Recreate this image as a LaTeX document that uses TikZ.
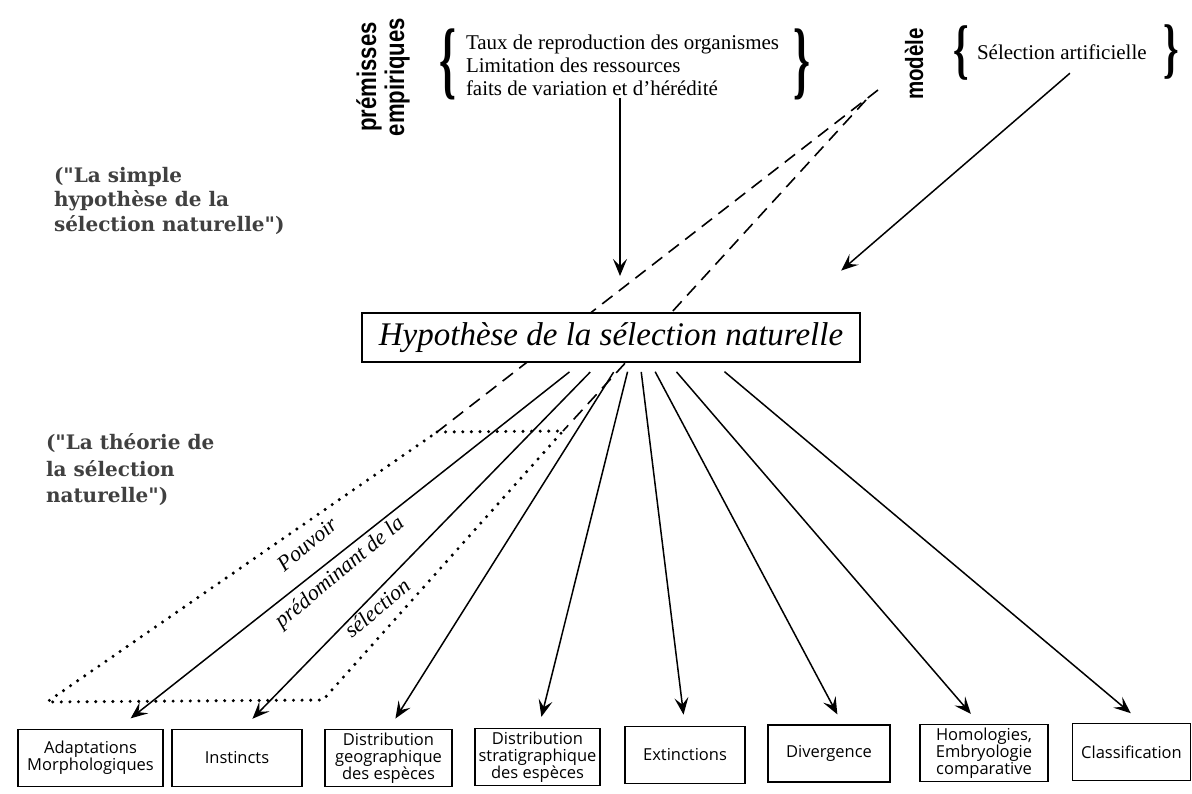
\documentclass[tikz,border=0pt]{standalone}
\usepackage{fontspec}
\setmainfont{Liberation Serif}
\newfontfamily\boxfont{Open Sans}
\newfontfamily\condfont[FakeStretch=0.82]{Liberation Sans}
\newfontfamily\labelfont{DejaVu Serif}
\usetikzlibrary{positioning, arrows.meta}

% tall brace glyph: #1 size, #2 horizontal squeeze, #3 glyph
\newcommand{\tallbrace}[3]{\scalebox{#2}[1]{\fontsize{#1}{#1}\selectfont\bfseries #3}}

\begin{document}
\begin{tikzpicture}[
    x=1pt, y=-1pt,
    >={Stealth[length=17pt, width=14pt, inset=7pt]},
    every node/.style={inner sep=0pt, outer sep=0pt},
    arrow/.style={->, line width=1.5pt},
    dashline/.style={line width=1.6pt, dash pattern=on 13pt off 8pt},
    dotline/.style={line width=3.4pt, line cap=round, dash pattern=on 0pt off 8.6pt},
    target/.style={draw, line width=1.4pt, minimum height=57pt, align=center,
        font=\boxfont\fontsize{16.5}{17}\selectfont},
    vlabel/.style={rotate=90, align=center, font=\condfont\bfseries\fontsize{27}{28}\selectfont},
    hyplabel/.style={anchor=west, align=left, text=black!75},
    slant/.style={rotate=40, font=\itshape\fontsize{22}{22}\selectfont},
]
\useasboundingbox[fill=white] (0,0) rectangle (1192,793);

% -- premisses and model --
\node[vlabel] (premlabel) at (383,77) {prémisses\\empiriques};
\node[anchor=west, align=left, font=\fontsize{21}{23}\selectfont] (prem) at (466,65)
    {Taux de reproduction des organismes\\Limitation des ressources\\faits de variation et d'hérédité};
\node (premleft) at (448,64) {\tallbrace{86}{0.5}{\{}};
\node (premright) at (802,64) {\tallbrace{86}{0.5}{\}}};

\node[vlabel, font=\condfont\bfseries\fontsize{25}{25}\selectfont] (modlabel) at (914,64) {modèle};
\node[anchor=west, font=\fontsize{21}{23}\selectfont] (sel) at (977,52) {Sélection artificielle};
\node (selleft) at (961,53) {\tallbrace{66}{0.6}{\{}};
\node (selright) at (1171,52) {\tallbrace{66}{0.6}{\}}};

% -- the two readings --
\node[hyplabel, font=\labelfont\bfseries\fontsize{20}{24.5}\selectfont] (simple) at (54,200.5)
    {("La simple\\hypothèse de la\\sélection naturelle")};
\node[hyplabel, font=\labelfont\bfseries\fontsize{20}{26.5}\selectfont] (theorie) at (46,470)
    {("La théorie de\\la sélection\\naturelle")};

% -- dashed projection and dotted field --
\coordinate (dA) at (878,90);
\coordinate (dB) at (866,100);
\coordinate (pTL) at (437,432);
\coordinate (pTR) at (563,431);
\coordinate (pBR) at (323,700);
\coordinate (pBL) at (47,702);
\draw[dashline] (dA) -- (pTL);
\draw[dashline] (dB) -- (pTR);
\draw[dotline] (pTL) -- (pTR) -- (pBR) -- (pBL) -- cycle;

\node[slant] (pouvoir) at (307,544) {Pouvoir};
\node[slant] (predom) at (340,573) {prédominant de la};
\node[slant] (selec) at (377,608) {sélection};

% -- central hypothesis --
\node[draw, fill=white, line width=1.4pt, minimum width=498pt, minimum height=49pt,
      font=\itshape\fontsize{33}{33}\selectfont] (hyp) at (611,337.5)
    {Hypothèse de la sélection naturelle};

\draw[arrow, shorten <=3pt, shorten >=37pt] (prem.south -| 620,0) -- (620,0 |- hyp.north);
\draw[arrow, shorten <=21pt, shorten >=65pt] ([xshift=24pt]sel.south) -- ([xshift=181pt]hyp.north);

% -- consequences --
\node[target, minimum width=145pt] (adapt) at (90.5,758) {Adaptations\\Morphologiques};
\node[target, minimum width=130pt] (instinct) at (237,758) {Instincts};
\node[target, minimum width=127pt] (geog) at (388.5,758) {Distribution\\geographique\\des espèces};
\node[target, minimum width=125pt] (strat) at (537.5,757) {Distribution\\stratigraphique\\des espèces};
\node[target, minimum width=120pt] (extinct) at (685,755) {Extinctions};
\node[target, minimum width=122pt] (diverg) at (829,753.5) {Divergence};
\node[target, minimum width=128pt] (homol) at (984,753) {Homologies,\\Embryologie\\comparative};
\node[target, minimum width=118pt] (classif) at (1131.5,752) {Classification};

\draw[arrow, shorten <=16pt, shorten >=18pt] ([xshift=-29pt]hyp.south) -- ([xshift=26pt]adapt.north);
\draw[arrow, shorten <=14pt, shorten >=15pt] ([xshift=-11pt]hyp.south) -- ([xshift=5pt]instinct.north);
\draw[arrow, shorten <=12pt, shorten >=13pt] ([xshift=9pt]hyp.south) -- (geog.north);
\draw[arrow, shorten <=10pt, shorten >=12pt] ([xshift=19pt]hyp.south) -- ([xshift=1pt]strat.north);
\draw[arrow, shorten <=10pt, shorten >=12pt] ([xshift=29pt]hyp.south) -- (extinct.north);
\draw[arrow, shorten <=11pt, shorten >=12pt] ([xshift=39pt]hyp.south) -- ([xshift=14pt]diverg.north);
\draw[arrow, shorten <=13pt, shorten >=14pt] ([xshift=57pt]hyp.south) -- ([xshift=-4pt]homol.north);
\draw[arrow, shorten <=15pt, shorten >=16pt] ([xshift=102pt]hyp.south) -- ([xshift=11.5pt]classif.north);

\end{tikzpicture}
\end{document}
